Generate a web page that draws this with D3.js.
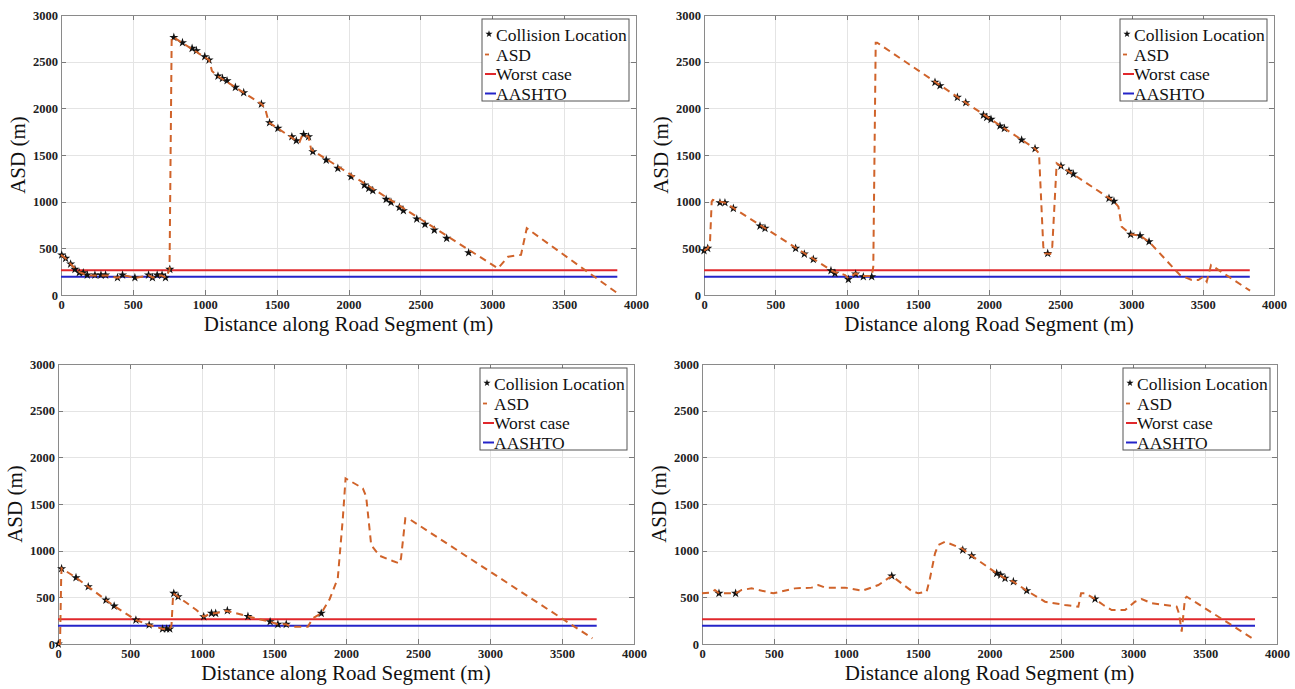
<!DOCTYPE html>
<head>
  <meta charset="utf-8">
  <script src="https://d3js.org/d3.v7.min.js"></script>
  <title>ASD along road segments</title>
  <style>
    body {
      margin: 0;
      background: #fff;
    }
    svg {
      display: block;
    }
    svg text {
      font-family: 'Liberation Serif', 'Times New Roman', Times, 'DejaVu Serif', serif;
    }
    .grid line {
      stroke: #e4e4e4;
      stroke-width: 1;
      shape-rendering: crispEdges;
    }
    .grid path {
      stroke-width: 0;
    }
    .axis path {
      display: none;
    }
    .axis line {
      stroke: #7a7a7a;
      shape-rendering: crispEdges;
    }
    .axis text {
      font-size: 12.5px;
      font-weight: bold;
      fill: #222;
    }
    .frame {
      fill: none;
      stroke: #8a8a8a;
      shape-rendering: crispEdges;
    }
    .asd {
      fill: none;
      stroke: #d0632a;
      stroke-width: 2;
      stroke-dasharray: 7 5;
    }
    .title {
      font-size: 21px;
      fill: #111;
    }
    .legend text {
      font-size: 17.5px;
      fill: #111;
    }
  </style>
</head>

<body>
<svg width="1295" height="689"></svg>
<script>

var xTicks = [0, 500, 1000, 1500, 2000, 2500, 3000, 3500, 4000];
var yTicks = [0, 500, 1000, 1500, 2000, 2500, 3000];
var worstCase = 265;
var aashto = 195;
var legendLabels = ["Collision Location", "ASD", "Worst case", "AASHTO"];
var xTitle = "Distance along Road Segment (m)";
var yTitle = "ASD (m)";

// panel 1 (top left)
var asd1 = [[0,430],[30,395],[65,335],[100,280],[130,245],[160,225],[200,210],[320,210],[360,195],
  [395,185],[430,210],[470,200],[510,180],[560,195],[610,210],[640,185],[670,210],[700,210],[730,185],
  [755,270],[770,2760],[785,2760],[1030,2518],[1050,2400],[1090,2346],[1395,2046],[1420,2000],
  [1445,1850],[1637,1653],[1660,1640],[1680,1720],[1722,1696],[1740,1560],[3040,285],[3110,410],
  [3200,430],[3240,715],[3870,20]];
var stars1 = [[5,429],[32,393],[67,332],[97,275],[127,239],[155,239],[183,214],[236,214],[278,214],
  [310,214],[393,186],[428,214],[514,186],[609,214],[636,186],[669,214],[703,214],[727,186],[757,275],
  [785,2760],[845,2704],[912,2643],[942,2618],[1000,2554],[1030,2518],[1092,2346],[1123,2321],
  [1155,2296],[1213,2225],[1271,2168],[1394,2046],[1451,1846],[1509,1786],[1606,1696],[1637,1653],
  [1688,1721],[1722,1696],[1752,1536],[1845,1446],[1926,1357],[2018,1268],[2111,1178],[2141,1143],
  [2169,1118],[2262,1025],[2296,993],[2354,939],[2382,904],[2475,814],[2532,757],[2597,696],
  [2683,607],[2836,453]];
var end1 = 3870;

// panel 2 (top right)
var asd2 = [[0,475],[26,500],[42,560],[54,1000],[62,1018],[147,989],[908,250],[990,214],[1013,179],
  [1064,232],[1106,204],[1177,204],[1188,303],[1205,2704],[1215,2704],[1837,2061],[2323,1568],
  [2351,1518],[2381,518],[2393,446],[2430,440],[2444,518],[2475,1411],[2877,1004],[2908,946],
  [2931,732],[2994,650],[3060,636],[3123,571],[3340,214],[3422,161],[3469,161],[3504,196],
  [3528,143],[3558,321],[3832,46]];
var stars2 = [[0,475],[26,500],[112,989],[147,989],[206,929],[393,739],[428,714],[643,500],[704,439],
  [767,382],[891,261],[919,232],[1013,168],[1064,225],[1118,196],[1177,196],[1621,2279],[1656,2243],
  [1778,2118],[1837,2061],[1961,1928],[1984,1903],[2014,1882],[2077,1811],[2108,1786],[2229,1661],
  [2323,1568],[2412,446],[2505,1382],[2561,1325],[2592,1296],[2842,1036],[2877,1004],[2994,650],
  [3060,636],[3123,571]];
var end2 = 3830;

// panel 3 (bottom left)
var asd3 = [[0,0],[14,0],[22,700],[25,811],[125,711],[210,614],[333,471],[390,407],[541,257],
  [633,204],[730,161],[776,161],[788,200],[800,543],[834,507],[961,364],[1012,293],[1066,329],
  [1095,329],[1169,357],[1319,296],[1470,239],[1527,211],[1585,211],[1620,186],[1735,186],
  [1770,275],[1828,329],[1886,480],[1943,704],[1978,1347],[1997,1775],[2117,1668],[2140,1579],
  [2175,1061],[2232,946],[2325,889],[2371,864],[2382,918],[2412,1347],[2440,1339],[3711,61]];
var stars3 = [[2,0],[25,807],[125,711],[210,614],[333,471],[390,407],[541,257],[633,204],[726,161],
  [754,161],[776,161],[804,543],[834,507],[1012,293],[1066,329],[1095,329],[1176,357],[1319,296],
  [1473,239],[1527,211],[1585,211],[1828,329]];
var end3 = 3741;

// panel 4 (bottom right)
var asd4 = [[0,543],[67,553],[90,579],[118,543],[183,543],[234,543],[276,579],[346,596],[496,543],
  [647,596],[763,604],[809,632],[856,604],[995,604],[1087,579],[1111,568],[1227,632],[1320,729],
  [1459,568],[1505,543],[1563,561],[1586,704],[1621,971],[1644,1061],[1690,1096],[1806,1025],
  [1876,946],[2050,757],[2108,704],[2166,668],[2259,571],[2386,453],[2525,418],[2618,400],
  [2637,543],[2664,543],[2734,482],[2792,418],[2850,364],[2943,364],[3012,453],[3059,482],
  [3129,436],[3221,418],[3302,400],[3314,346],[3325,257],[3337,132],[3360,489],[3372,507],[3847,43]];
var stars4 = [[118,543],[234,543],[1320,729],[1814,1007],[1876,946],[2050,757],[2078,739],
  [2108,704],[2166,668],[2259,571],[2734,482]];
var end4 = 3847;

var asdSeries = [asd1, asd2, asd3, asd4];
var starSeries = [stars1, stars2, stars3, stars4];
var lineEnds = [end1, end2, end3, end4];

// plot boxes in page pixels
var boxes = [
  {left: 61, right: 636, top: 15, bottom: 295},
  {left: 704, right: 1274, top: 15, bottom: 295},
  {left: 58, right: 634, top: 364, bottom: 644},
  {left: 702, right: 1277, top: 364, bottom: 644}
];

var serif = "'Liberation Serif', 'Times New Roman', Times, 'DejaVu Serif', serif";
var svg = d3.select("svg");
var star = d3.symbol().type(d3.symbolStar).size(26);

boxes.forEach(function(b, i) {
  var width = b.right - b.left;
  var height = b.bottom - b.top;

  var x = d3.scaleLinear().domain([0, 4000]).range([0, width]);
  var y = d3.scaleLinear().domain([0, 3000]).range([height, 0]);

  var g = svg.append("g")
      .attr("transform", "translate(" + b.left + "," + b.top + ")");

  g.append("rect")
      .attr("width", width)
      .attr("height", height)
      .attr("fill", "#fff");

  g.append("g")
      .attr("class", "grid")
      .attr("transform", "translate(0," + height + ")")
      .call(d3.axisBottom(x).tickValues(xTicks).tickSize(-height).tickFormat(""));

  g.append("g")
      .attr("class", "grid")
      .call(d3.axisLeft(y).tickValues(yTicks).tickSize(-width).tickFormat(""));

  // inward ticks on all four sides, labels on bottom and left
  g.append("g")
      .attr("class", "axis")
      .attr("transform", "translate(0," + height + ")")
      .attr("font-family", serif)
      .call(d3.axisBottom(x).tickValues(xTicks).tickFormat(d3.format("d"))
        .tickSizeInner(-5).tickSizeOuter(0).tickPadding(5));

  g.append("g")
      .attr("class", "axis")
      .attr("font-family", serif)
      .call(d3.axisLeft(y).tickValues(yTicks).tickFormat(d3.format("d"))
        .tickSizeInner(-5).tickSizeOuter(0).tickPadding(3));

  g.append("g")
      .attr("class", "axis")
      .call(d3.axisTop(x).tickValues(xTicks).tickSizeInner(-5).tickSizeOuter(0).tickFormat(""));

  g.append("g")
      .attr("class", "axis")
      .attr("transform", "translate(" + width + ",0)")
      .call(d3.axisRight(y).tickValues(yTicks).tickSizeInner(-5).tickSizeOuter(0).tickFormat(""));

  g.selectAll(".axis text").attr("font-family", serif);

  g.append("rect")
      .attr("class", "frame")
      .attr("width", width)
      .attr("height", height);

  // reference lines
  g.append("line")
      .attr("x1", x(0)).attr("x2", x(lineEnds[i]))
      .attr("y1", y(worstCase)).attr("y2", y(worstCase))
      .attr("stroke", "#e0282c")
      .attr("stroke-width", 2);

  g.append("line")
      .attr("x1", x(0)).attr("x2", x(lineEnds[i]))
      .attr("y1", y(aashto)).attr("y2", y(aashto))
      .attr("stroke", "#2424c8")
      .attr("stroke-width", 2);

  g.selectAll(".star")
      .data(starSeries[i])
      .enter()
      .append("path")
      .attr("class", "star")
      .attr("d", star)
      .attr("transform", function(d) { return "translate(" + x(d[0]) + "," + y(d[1]) + ")"; })
      .attr("fill", "#111");

  var line = d3.line()
      .x(function(d) { return x(d[0]); })
      .y(function(d) { return y(d[1]); });

  g.append("path")
      .attr("class", "asd")
      .attr("d", line(asdSeries[i]));

  // titles
  g.append("text")
      .attr("class", "title")
      .attr("font-family", serif)
      .attr("x", width / 2)
      .attr("y", height + 36)
      .attr("text-anchor", "middle")
      .text(xTitle);

  g.append("text")
      .attr("class", "title")
      .attr("font-family", serif)
      .attr("transform", "translate(-36," + (height / 2) + ") rotate(-90)")
      .attr("text-anchor", "middle")
      .text(yTitle);

  // legend
  var lg = g.append("g")
      .attr("class", "legend")
      .attr("transform", "translate(" + (width - 154) + ",4)");

  lg.append("rect")
      .attr("width", 147)
      .attr("height", 82)
      .attr("fill", "#fff")
      .attr("stroke", "#555");

  lg.selectAll("text")
      .data(legendLabels)
      .enter()
      .append("text")
      .attr("font-family", serif)
      .attr("x", 14)
      .attr("y", function(d, k) { return 16 + k * 19.5; })
      .attr("dy", "0.35em")
      .text(function(d) { return d; });

  lg.append("path")
      .attr("d", d3.symbol().type(d3.symbolStar).size(16))
      .attr("transform", "translate(7,15)")
      .attr("fill", "#111");

  lg.append("line")
      .attr("x1", 3).attr("x2", 7)
      .attr("y1", 35.5).attr("y2", 35.5)
      .attr("stroke", "#d0632a").attr("stroke-width", 1.8);

  lg.append("line")
      .attr("x1", 3).attr("x2", 14)
      .attr("y1", 55).attr("y2", 55)
      .attr("stroke", "#e0282c").attr("stroke-width", 2);

  lg.append("line")
      .attr("x1", 3).attr("x2", 14)
      .attr("y1", 74.5).attr("y2", 74.5)
      .attr("stroke", "#2424c8").attr("stroke-width", 2);
});

</script>
</body>
